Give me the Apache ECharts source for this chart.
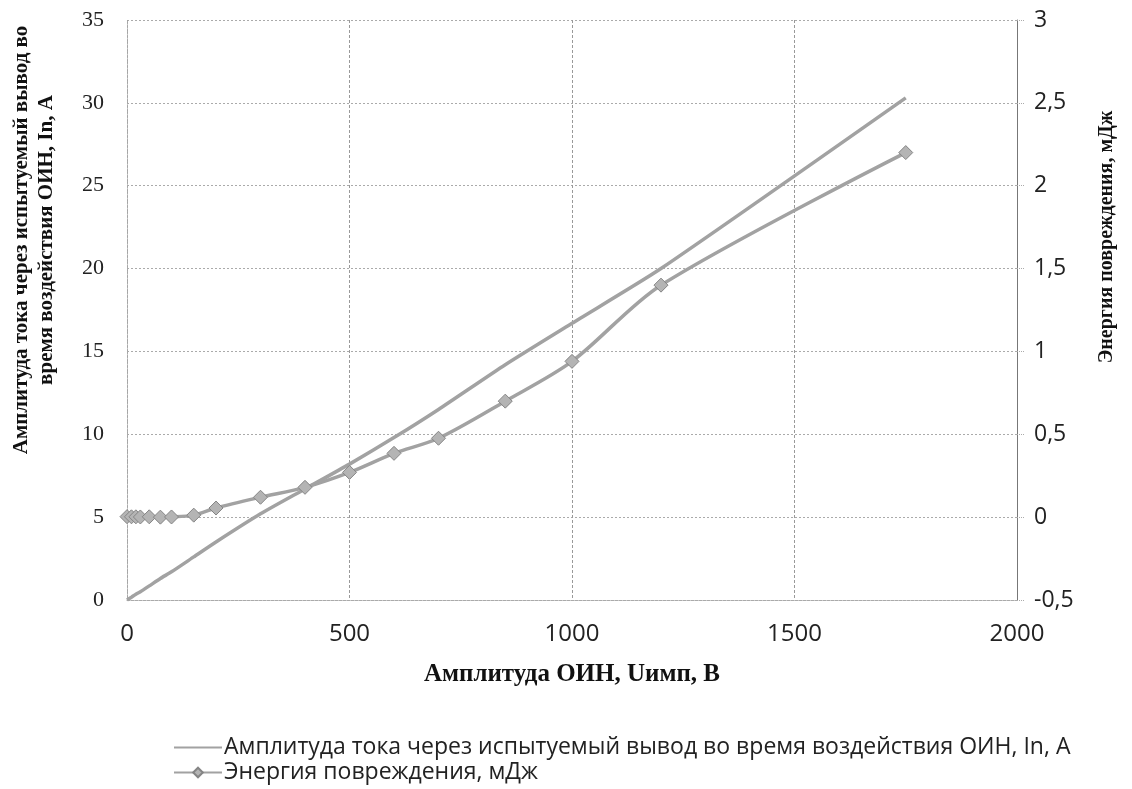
<!DOCTYPE html>
<html>
<head>
<meta charset="utf-8">
<script src="https://cdn.jsdelivr.net/npm/echarts@6/dist/echarts.min.js"></script>
<style>
  html, body { margin: 0; padding: 0; background: #fff; }
  #chart { width: 1132px; height: 789px; }
</style>
</head>
<body>
<div id="chart"></div>
<script>
// Импульсное напряжение ОИН, В
const voltage = [0, 10, 20, 30, 50, 75, 100, 150, 200, 300, 400, 500, 600, 700, 850, 1000, 1200, 1750];
// Амплитуда тока через испытуемый вывод, А
const currentA = [0, 0.17, 0.35, 0.5, 0.85, 1.3, 1.7, 2.6, 3.5, 5.2, 6.7, 8.2, 9.8, 11.5, 14.2, 16.7, 20.0, 30.3];
// Энергия повреждения, мДж
const energy = [0.003, 0.002, 0.002, 0.001, 0.002, 0.0, 0.001, 0.012, 0.055, 0.12, 0.18, 0.27, 0.385, 0.476, 0.70, 0.94, 1.40, 2.2];

const xTicks = { min: 0, max: 2000, interval: 500 };
const leftTicks = { min: 0, max: 35, interval: 5 };
const rightTicks = { min: -0.5, max: 3, interval: 0.5 };

const seriesNames = [
  'Амплитуда тока через испытуемый вывод во время воздействия ОИН, In, А',
  'Энергия повреждения, мДж'
];

const serif = '"Liberation Serif", "DejaVu Serif", serif';
const sans = '"Open Sans", "Noto Sans", sans-serif';
const lineGrey = '#a2a2a2';

const chart = echarts.init(document.getElementById('chart'));
chart.setOption({
  backgroundColor: '#ffffff',
  animation: false,
  grid: { left: 127, right: 115, top: 20, bottom: 189, containLabel: false, outerBoundsMode: 'none' },
  legend: {
    orient: 'vertical',
    left: 168,
    top: 731,
    itemGap: 2,
    itemWidth: 48,
    itemHeight: 12,
    textStyle: { fontFamily: sans, fontSize: 23, color: '#222', padding: [0, 0, 0, -3] },
    data: [
      { name: seriesNames[0], itemStyle: { color: 'transparent', borderWidth: 0 } },
      { name: seriesNames[1] }
    ]
  },
  xAxis: {
    type: 'value',
    min: xTicks.min, max: xTicks.max, interval: xTicks.interval,
    name: 'Амплитуда ОИН, Uимп, В',
    nameLocation: 'middle',
    nameGap: 62,
    nameTextStyle: { fontFamily: serif, fontWeight: 'bold', fontSize: 25, color: '#111' },
    axisLine: { show: true, lineStyle: { color: '#aaa', type: 'dotted', width: 1 } },
    axisTick: { show: false },
    axisLabel: { fontFamily: sans, fontSize: 24, color: '#222', margin: 22, formatter: v => String(v) },
    splitLine: { show: true, lineStyle: { color: '#999', type: [3, 2], width: 1 } }
  },
  yAxis: [
    {
      type: 'value',
      position: 'left',
      min: leftTicks.min, max: leftTicks.max, interval: leftTicks.interval,
      name: 'Амплитуда тока через испытуемый вывод во\nвремя воздействия ОИН, In, А',
      nameLocation: 'middle',
      nameRotate: 90,
      nameGap: 68,
      nameTextStyle: {
        fontFamily: serif, fontWeight: 'bold', fontSize: 21, color: '#111',
        lineHeight: 25, padding: [0, 0, 0, 140]
      },
      axisLine: { show: true, lineStyle: { color: '#aaa', type: 'dotted', width: 1 } },
      axisTick: { show: false },
      axisLabel: { fontFamily: serif, fontSize: 22, color: '#222', margin: 23 },
      splitLine: { show: true, lineStyle: { color: '#aaa', type: [2, 2], width: 1 } }
    },
    {
      type: 'value',
      position: 'right',
      min: rightTicks.min, max: rightTicks.max, interval: rightTicks.interval,
      name: 'Энергия повреждения, мДж',
      nameLocation: 'middle',
      nameRotate: 90,
      nameGap: 80,
      nameTextStyle: {
        fontFamily: serif, fontWeight: 'bold', fontSize: 20, color: '#111',
        padding: [0, 0, 0, 146]
      },
      axisLine: { show: true, lineStyle: { color: '#777', width: 1 } },
      axisTick: { show: true, length: 8, lineStyle: { color: '#aaa', type: 'dotted' } },
      axisLabel: {
        fontFamily: sans, fontSize: 23, color: '#222', margin: 17,
        formatter: v => String(v).replace('.', ',')
      },
      splitLine: { show: false }
    }
  ],
  series: [
    {
      name: seriesNames[0],
      type: 'line',
      yAxisIndex: 0,
      data: voltage.map((v, i) => [v, currentA[i]]),
      smooth: 0.2,
      symbol: 'none',
      lineStyle: { color: lineGrey, width: 3.5 },
      itemStyle: { color: lineGrey }
    },
    {
      name: seriesNames[1],
      type: 'line',
      yAxisIndex: 1,
      data: voltage.map((v, i) => [v, energy[i]]),
      smooth: 0.3,
      symbol: 'diamond',
      symbolSize: [14, 14],
      lineStyle: { color: lineGrey, width: 3.5 },
      itemStyle: { color: '#b4b4b4', borderColor: '#858585', borderWidth: 1 }
    }
  ]
});
</script>
</body>
</html>
